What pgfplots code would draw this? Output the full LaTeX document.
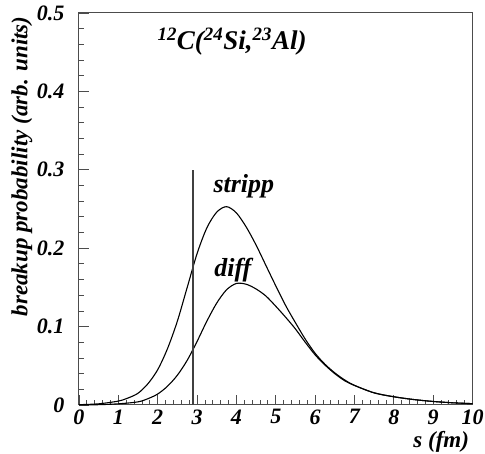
\documentclass[border=0pt]{standalone}
\usepackage{fontspec}
\setmainfont{Liberation Serif}
\usepackage{pgfplots}
\pgfplotsset{compat=1.18}
\begin{document}
\begin{tikzpicture}
\begin{axis}[
  scale only axis,
  width=393.5pt, height=392pt,
  xmin=0, xmax=10, ymin=0, ymax=0.5,
  xtick={0,1,...,10}, ytick={0,0.1,0.2,0.3,0.4,0.5},
  yticklabels={0,0.1,0.2,0.3,0.4,0.5},
  minor x tick num=4, minor y tick num=4,
  xtick pos=left, ytick pos=left,
  tick align=inside,
  major tick length=10pt, minor tick length=5pt,
  axis line style={draw=black!70, line width=1pt},
  every tick/.style={black!70, line width=0.8pt},
  /pgf/number format/assume math mode=true,
  ticklabel style={font=\fontsize{22}{23}\selectfont\bfseries\itshape},
  xticklabel style={yshift=-1pt},
  yticklabel style={xshift=-11pt},
  xlabel={s (fm)},
  ylabel={breakup probability (arb. units)},
  label style={font=\fontsize{23}{24}\selectfont\bfseries\itshape},
  xlabel style={at={(axis description cs:1,-0.095)}, anchor=east},
  ylabel style={at={(axis description cs:-0.145,1)}, anchor=east},
  clip=false,
]
\coordinate (O) at (rel axis cs:0,0);
\addplot[black, line width=1.1pt, smooth] coordinates {
(0,0.0004) (0.5,0.0015) (1.0,0.005) (1.25,0.009) (1.5,0.015) (1.75,0.027)
(2.0,0.045) (2.25,0.072) (2.5,0.107) (2.75,0.150) (3.0,0.193) (3.25,0.226)
(3.5,0.246) (3.75,0.253) (4.0,0.245) (4.25,0.227) (4.5,0.204)
(4.75,0.178) (5.0,0.152) (5.25,0.127) (5.5,0.105) (5.75,0.084) (6.0,0.066)
(6.25,0.052) (6.5,0.041) (6.75,0.032) (7.0,0.025) (7.5,0.0155) (8.0,0.0105)
(8.5,0.007) (9.0,0.0045) (9.5,0.0028) (10,0.0017)
};
\addplot[black, line width=1.1pt, smooth] coordinates {
(0,0.0001) (0.5,0.0004) (1.0,0.0015) (1.5,0.004) (1.75,0.008) (2.0,0.014)
(2.25,0.024) (2.5,0.038) (2.75,0.057) (3.0,0.081) (3.25,0.107) (3.5,0.130)
(3.75,0.147) (4.0,0.155) (4.25,0.154) (4.5,0.148) (4.75,0.139) (5.0,0.126)
(5.25,0.112) (5.5,0.097) (5.75,0.080) (6.0,0.064) (6.25,0.051) (6.5,0.040)
(6.75,0.031) (7.0,0.025) (7.5,0.0155) (8.0,0.0105) (8.5,0.007) (9.0,0.0045)
(9.5,0.0028) (10,0.0017)
};
\addplot[black!75, line width=1.3pt] coordinates {(2.9,0) (2.9,0.3)};
\node[font=\fontsize{27}{28}\selectfont\bfseries\itshape] at (axis cs:3.89,0.463) {\textsuperscript{12}C(\textsuperscript{24}Si,\textsuperscript{23}Al)};
\node[font=\fontsize{26}{27}\selectfont\bfseries\itshape] at (axis cs:4.19,0.279) {stripp};
\node[font=\fontsize{26}{27}\selectfont\bfseries\itshape] at (axis cs:3.91,0.172) {diff};
\end{axis}
\pgfresetboundingbox
\path (O) ++(-79pt,-49pt) rectangle ++(485pt,454pt);
\end{tikzpicture}
\end{document}
